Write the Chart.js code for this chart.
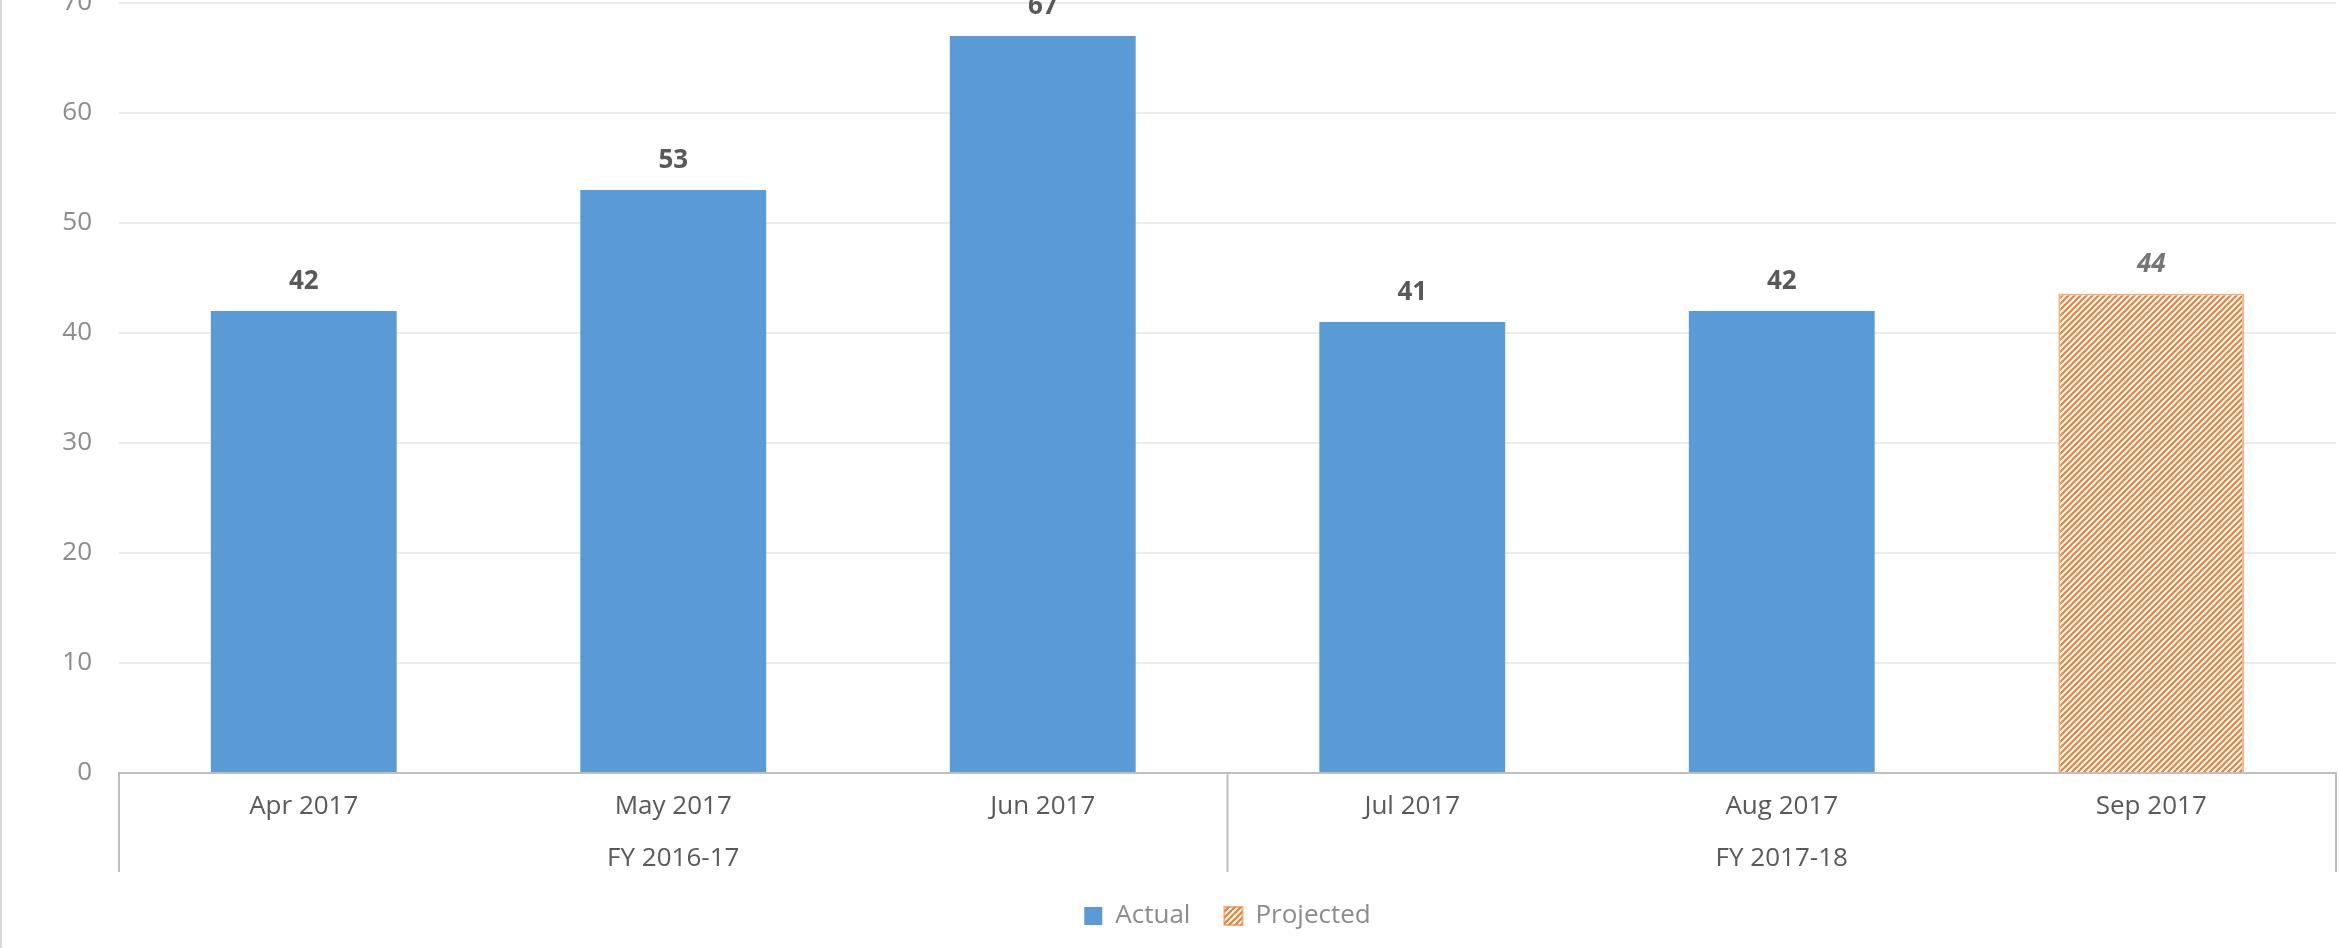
<!DOCTYPE html>
<html>
<head>
<meta charset="utf-8">
<title>Actual vs Projected</title>
<script src="https://cdn.jsdelivr.net/npm/chart.js@4.4.1/dist/chart.umd.min.js"></script>
<style>
  html, body { margin: 0; padding: 0; background: #fff; overflow: hidden; }
  #wrap { position: relative; width: 2339px; height: 948px; }
</style>
</head>
<body>
<div id="wrap"><canvas id="barChart"></canvas></div>
<script>
// Data
const categories = ['Apr 2017', 'May 2017', 'Jun 2017', 'Jul 2017', 'Aug 2017', 'Sep 2017'];
const groupLabels = ['FY 2016-17', 'FY 2017-18'];
const groupSizes = [3, 3];
const actualValues = [42, 53, 67, 41, 42, null];
const projectedValues = [null, null, null, null, null, 43.6];
const yTickValues = [0, 10, 20, 30, 40, 50, 60, 70];

const FONT = '"Open Sans", "DejaVu Sans", sans-serif';
const BLUE = '#5B9BD5';
const ORANGE = '#ED7D31';

// diagonal hatch for the projected bar
function makeHatch(size, lineW) {
    const c = document.createElement('canvas');
    c.width = size;
    c.height = size;
    const g = c.getContext('2d');
    g.fillStyle = '#fff';
    g.fillRect(0, 0, size, size);
    g.strokeStyle = ORANGE;
    g.lineWidth = lineW;
    g.beginPath();
    g.moveTo(-size / 2, size / 2); g.lineTo(size / 2, -size / 2);
    g.moveTo(0, size); g.lineTo(size, 0);
    g.moveTo(size / 2, size * 1.5); g.lineTo(size * 1.5, size / 2);
    g.stroke();
    return g.createPattern(c, 'repeat');
}
const hatch = makeHatch(6, 2.1);

// value labels above bars, multi-level category axis, chart border
const extras = {
    id: 'extras',
    beforeDraw(chart) {
        const ctx = chart.ctx;
        ctx.save();
        ctx.fillStyle = '#d9d9d9';
        ctx.fillRect(0, 0, 2, chart.height);
        ctx.restore();
    },
    afterDatasetsDraw(chart) {
        const ctx = chart.ctx;
        ctx.save();
        ctx.textAlign = 'center';
        ctx.textBaseline = 'middle';
        chart.data.datasets.forEach((ds, di) => {
            const meta = chart.getDatasetMeta(di);
            meta.data.forEach((bar, i) => {
                const v = ds.data[i];
                if (v === null || v === undefined) return;
                if (di === 1) {
                    ctx.font = 'italic bold 26px ' + FONT;
                    ctx.fillStyle = '#767676';
                } else {
                    ctx.font = 'bold 26px ' + FONT;
                    ctx.fillStyle = '#595959';
                }
                ctx.fillText(Math.round(v), bar.x, bar.y - 29);
            });
        });
        ctx.restore();
    },
    afterDraw(chart) {
        const ctx = chart.ctx;
        const x = chart.scales.x;
        const top = chart.chartArea.bottom;
        ctx.save();
        ctx.strokeStyle = '#bfbfbf';
        ctx.lineWidth = 2;
        ctx.fillStyle = '#595959';
        ctx.font = '26px ' + FONT;
        ctx.textAlign = 'center';
        ctx.textBaseline = 'middle';
        let start = 0;
        const edges = [x.getPixelForValue(-0.5)];
        groupSizes.forEach((n, gi) => {
            const left = x.getPixelForValue(start - 0.5);
            const right = x.getPixelForValue(start + n - 0.5);
            edges.push(right);
            ctx.fillText(groupLabels[gi], (left + right) / 2, 859);
            start += n;
        });
        edges.forEach(px => {
            ctx.beginPath();
            ctx.moveTo(px, top);
            ctx.lineTo(px, 872);
            ctx.stroke();
        });
        ctx.restore();
    }
};

new Chart(document.getElementById('barChart'), {
    type: 'bar',
    data: {
        labels: categories,
        datasets: [
            {
                label: 'Actual',
                data: actualValues,
                backgroundColor: BLUE,
                borderWidth: 0
            },
            {
                label: 'Projected',
                data: projectedValues,
                backgroundColor: hatch,
                borderColor: 'rgba(237, 125, 49, 0.6)',
                borderWidth: 2
            }
        ]
    },
    options: {
        responsive: true,
        maintainAspectRatio: false,
        animation: false,
        devicePixelRatio: 1,
        layout: { padding: { top: 3, right: 3, bottom: 9, left: 0 } },
        datasets: {
            bar: { barPercentage: 0.503, categoryPercentage: 1 }
        },
        plugins: {
            tooltip: { enabled: false },
            legend: {
                position: 'bottom',
                fullSize: false,
                labels: {
                    color: '#8c8c8c',
                    font: { family: FONT, size: 26 },
                    boxWidth: 18,
                    boxHeight: 18,
                    padding: 34
                }
            }
        },
        scales: {
            x: {
                stacked: true,
                grid: { display: false, drawTicks: false },
                border: { display: true, color: '#bfbfbf', width: 2 },
                ticks: {
                    color: '#595959',
                    font: { family: FONT, size: 26 },
                    padding: 18,
                    maxRotation: 0
                },
                afterFit(scale) { scale.height = 96; }
            },
            y: {
                stacked: true,
                min: 0,
                max: 70,
                afterBuildTicks(scale) {
                    scale.ticks = yTickValues.map(v => ({ value: v }));
                },
                grid: {
                    color: ctx => ctx.tick && ctx.tick.value === 0 ? 'rgba(0,0,0,0)' : '#ececec',
                    lineWidth: 2,
                    drawTicks: false
                },
                border: { display: false },
                ticks: {
                    color: '#8c8c8c',
                    font: { family: FONT, size: 26 },
                    padding: 27
                },
                afterFit(scale) {
                    scale.width = 119;
                    scale.paddingTop = 0;
                    scale.paddingBottom = 0;
                }
            }
        }
    },
    plugins: [extras]
});
</script>
</body>
</html>
